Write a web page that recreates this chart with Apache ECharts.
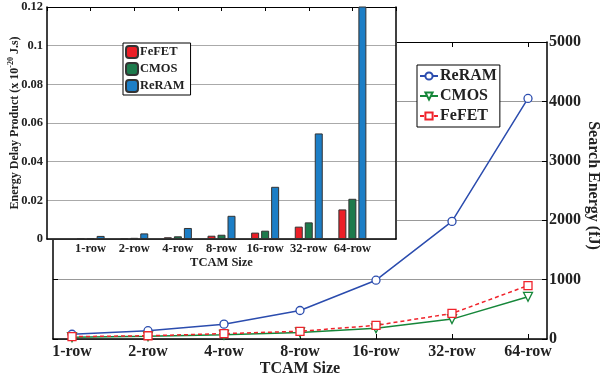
<!DOCTYPE html>
<html>
<head>
<meta charset="utf-8">
<script src="https://cdn.jsdelivr.net/npm/echarts@6/dist/echarts.min.js"></script>
<style>
    html, body { margin: 0; padding: 0; background: #fff; }
    #chart { width: 600px; height: 377px; }
</style>
</head>
<body>
<div id="chart"></div>
<script>
const sizes = ["1-row", "2-row", "4-row", "8-row", "16-row", "32-row", "64-row"];

// search energy (fJ) - main plot
const energyReRAM = [80, 140, 250, 480, 990, 1980, 4050];
const energyCMOS = [30, 45, 70, 110, 180, 335, 710];
const energyFeFET = [40, 55, 90, 130, 230, 430, 900];
const energyTicks = [0, 1000, 2000, 3000, 4000, 5000];

// energy delay product (x 10^-20 J.s) - inset
const edpFeFET = [0.0004, 0.0005, 0.0009, 0.0017, 0.0033, 0.0064, 0.0153];
const edpCMOS = [0.0005, 0.0006, 0.0014, 0.0022, 0.0043, 0.0086, 0.0208];
const edpReRAM = [0.0016, 0.0029, 0.0057, 0.012, 0.027, 0.0546, 0.14];
const edpTicks = [0, 0.02, 0.04, 0.06, 0.08, 0.1, 0.12];

const font = "Liberation Serif";
const colors = { fefet: "#ec1f27", cmos: "#1d7a4c", reram: "#1c7ec6" };
const lineColors = { reram: "#2b4cae", cmos: "#16873a", fefet: "#f0232b" };

const chart = echarts.init(document.getElementById("chart"));

const idx = sizes.map((s, i) => i);
const pad = (arr, empty) => [empty, ...arr, empty];
const pts = (arr) => arr.map((v, i) => [i, v]);

const mainX = {
    type: "value",
    gridIndex: 0,
    min: -0.25,
    max: 6.25,
    axisLine: { onZero: false, lineStyle: { color: "#000", width: 1.5 } },
    axisTick: { inside: true, length: 5, customValues: idx, lineStyle: { color: "#000" } },
    splitLine: { show: false },
};

const option = {
    animation: false,
    textStyle: { fontFamily: font, fontWeight: "bold", color: "#222" },
    grid: [
        { left: 53, right: 53, top: 42, bottom: 38, outerBoundsMode: "none", containLabel: false },
        { left: 47, right: 204, top: 7, bottom: 138, z: 20, outerBoundsMode: "none", containLabel: false },
    ],
    graphic: [
        // inset covers the main plot
        { type: "rect", shape: { x: 0, y: 0, width: 397, height: 240 }, style: { fill: "#fff" }, z: 10 },
    ],
    legend: [
        {
            data: ["ReRAM", "CMOS", "FeFET"],
            orient: "vertical",
            left: 417,
            top: 65,
            itemWidth: 18,
            itemHeight: 9,
            itemGap: 4,
            padding: [3, 3, 3, 2],
            borderColor: "#000",
            borderWidth: 1,
            backgroundColor: "#fff",
            textStyle: { fontFamily: font, fontWeight: "bold", fontSize: 16, color: "#222", padding: [0, 0, 0, -3] },
        },
        {
            data: ["FeFET ", "CMOS ", "ReRAM "],
            orient: "vertical",
            left: 123,
            top: 43,
            itemWidth: 12,
            itemHeight: 12,
            itemGap: 3,
            padding: [2, 3, 2, 2],
            borderColor: "#000",
            borderWidth: 1,
            backgroundColor: "#fff",
            z: 30,
            textStyle: {
                fontFamily: font, fontWeight: "bold", fontSize: 12.5, lineHeight: 12,
                color: "#222", padding: [0, 0, 0, -3],
            },
        },
    ],
    xAxis: [
        {
            ...mainX,
            position: "bottom",
            name: "TCAM Size",
            nameLocation: "middle",
            nameGap: 22,
            nameMoveOverlap: false,
            nameTextStyle: { fontFamily: font, fontWeight: "bold", fontSize: 16, color: "#222" },
            axisLabel: {
                customValues: idx,
                margin: 5,
                fontSize: 16,
                color: "#222",
                formatter: (v) => sizes[v],
            },
        },
        { ...mainX, position: "top", axisLabel: { show: false }, axisLine: { onZero: false, lineStyle: { color: "#000", width: 1 } } },
        {
            type: "category",
            gridIndex: 1,
            data: pad(sizes, ""),
            boundaryGap: false,
            position: "bottom",
            z: 20,
            name: "TCAM Size",
            nameLocation: "middle",
            nameGap: 17,
            nameMoveOverlap: false,
            nameTextStyle: { fontFamily: font, fontWeight: "bold", fontSize: 12.5, color: "#222" },
            axisLine: { onZero: false, lineStyle: { color: "#000", width: 1.5 } },
            axisTick: { show: false },
            axisLabel: { interval: 0, margin: 3, fontSize: 12.5, color: "#222" },
        },
        {
            type: "category",
            gridIndex: 1,
            data: pad(sizes, ""),
            boundaryGap: false,
            position: "top",
            z: 20,
            axisLine: { onZero: false, lineStyle: { color: "#000", width: 1 } },
            axisTick: { inside: true, length: 4, interval: 0, lineStyle: { color: "#000" } },
            axisLabel: { show: false },
        },
    ],
    yAxis: [
        {
            type: "value",
            gridIndex: 0,
            position: "right",
            min: energyTicks[0],
            max: energyTicks[energyTicks.length - 1],
            interval: energyTicks[1] - energyTicks[0],
            name: "Search Energy (fJ)",
            nameLocation: "middle",
            nameRotate: -90,
            nameGap: 38,
            nameMoveOverlap: false,
            nameTextStyle: { fontFamily: font, fontWeight: "bold", fontSize: 16, color: "#222", padding: [0, 10, 0, 0] },
            axisLine: { show: true, onZero: false, lineStyle: { color: "#000", width: 1.5 } },
            axisTick: { show: true, inside: true, length: 5, lineStyle: { color: "#000" } },
            axisLabel: { margin: 2, fontSize: 16, color: "#222", formatter: (v) => String(v) },
            splitLine: { show: true, lineStyle: { color: "#999", width: 1 } },
        },
        {
            type: "value",
            gridIndex: 0,
            position: "left",
            min: energyTicks[0],
            max: energyTicks[energyTicks.length - 1],
            interval: energyTicks[1] - energyTicks[0],
            axisLine: { show: true, onZero: false, lineStyle: { color: "#000", width: 1.5 } },
            axisTick: { show: true, inside: true, length: 5, lineStyle: { color: "#000" } },
            axisLabel: { show: false },
            splitLine: { show: false },
        },
        {
            type: "value",
            gridIndex: 1,
            position: "left",
            min: edpTicks[0],
            max: edpTicks[edpTicks.length - 1],
            interval: edpTicks[1] - edpTicks[0],
            z: 20,
            name: "{a|Energy Delay Product (x 10}{s|-20}{a| J.s)}",
            nameLocation: "middle",
            nameGap: 25,
            nameMoveOverlap: false,
            nameTextStyle: {
                rich: {
                    a: { fontFamily: font, fontWeight: "bold", fontSize: 12, color: "#222" },
                    s: { fontFamily: font, fontWeight: "bold", fontSize: 8, color: "#222", padding: [0, 0, 7, 0] },
                },
            },
            axisLine: { show: true, onZero: false, lineStyle: { color: "#000", width: 1.5 } },
            axisTick: { show: false },
            axisLabel: { margin: 4, fontSize: 12.5, color: "#222", formatter: (v) => String(v) },
            splitLine: { show: true, lineStyle: { color: "#aaa", width: 1 } },
        },
        {
            type: "value",
            gridIndex: 1,
            position: "right",
            min: edpTicks[0],
            max: edpTicks[edpTicks.length - 1],
            interval: edpTicks[1] - edpTicks[0],
            z: 20,
            axisLine: { show: true, onZero: false, lineStyle: { color: "#000", width: 1.5 } },
            axisTick: { show: false },
            axisLabel: { show: false },
            splitLine: { show: false },
        },
    ],
    series: [
        {
            name: "ReRAM",
            type: "line",
            xAxisIndex: 0,
            yAxisIndex: 0,
            data: pts(energyReRAM),
            symbol: "circle",
            symbolSize: 8,
            itemStyle: { color: "#fff", borderColor: lineColors.reram, borderWidth: 1.3 },
            lineStyle: { color: lineColors.reram, width: 1.5 },
        },
        {
            name: "CMOS",
            type: "line",
            xAxisIndex: 0,
            yAxisIndex: 0,
            data: pts(energyCMOS),
            symbol: "triangle",
            symbolRotate: 180,
            symbolSize: 9,
            itemStyle: { color: "#fff", borderColor: lineColors.cmos, borderWidth: 1.3 },
            lineStyle: { color: lineColors.cmos, width: 1.5 },
        },
        {
            name: "FeFET",
            type: "line",
            xAxisIndex: 0,
            yAxisIndex: 0,
            data: pts(energyFeFET),
            symbol: "rect",
            symbolSize: 8,
            itemStyle: { color: "#fff", borderColor: lineColors.fefet, borderWidth: 1.3 },
            lineStyle: { color: lineColors.fefet, width: 1.5, type: [4, 3] },
        },
        {
            name: "FeFET ",
            type: "bar",
            xAxisIndex: 2,
            yAxisIndex: 2,
            z: 21,
            data: pad(edpFeFET, null),
            barWidth: 8,
            barGap: "25%",
            itemStyle: { color: colors.fefet, borderColor: "#333", borderWidth: 1 },
        },
        {
            name: "CMOS ",
            type: "bar",
            xAxisIndex: 2,
            yAxisIndex: 2,
            z: 21,
            data: pad(edpCMOS, null),
            barWidth: 8,
            barGap: "25%",
            itemStyle: { color: colors.cmos, borderColor: "#333", borderWidth: 1 },
        },
        {
            name: "ReRAM ",
            type: "bar",
            xAxisIndex: 2,
            yAxisIndex: 2,
            z: 21,
            data: pad(edpReRAM, null),
            barWidth: 8,
            barGap: "25%",
            itemStyle: { color: colors.reram, borderColor: "#333", borderWidth: 1 },
        },
    ],
};

chart.setOption(option);
</script>
</body>
</html>
